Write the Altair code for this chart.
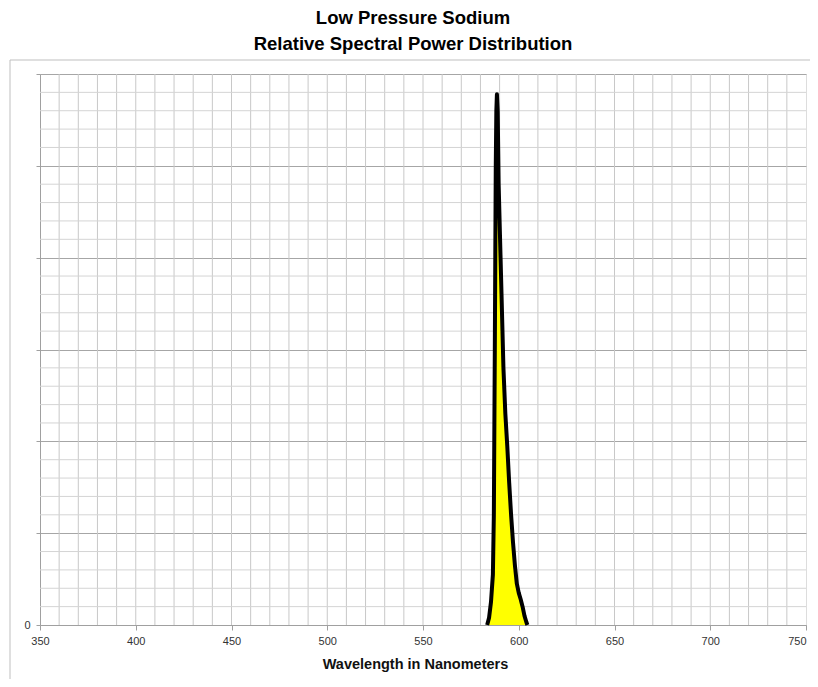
import altair as alt
import pandas as pd

# Spectral power distribution (relative)
wavelength = [583.5, 584.5, 585.5, 586.5, 587.0, 587.5, 588.0, 588.3, 588.6, 589.0,
              589.5, 590.0, 590.5, 591.0, 591.5, 592.0, 593.0, 594.0, 595.0, 596.0,
              597.0, 598.0, 599.0, 600.0, 601.0, 602.0, 603.0, 604.0, 604.5]
power = [0.0, 0.8, 2.5, 5.5, 12.0, 30.0, 50.0, 56.0, 57.8, 56.0,
         48.0, 44.0, 40.0, 36.0, 32.0, 28.0, 23.0, 19.5, 15.5, 12.0,
         9.0, 6.5, 4.5, 3.5, 2.8, 2.0, 1.0, 0.3, 0.0]

x_major = [350, 400, 450, 500, 550, 600, 650, 700, 750]
x_minor = list(range(360, 750, 10))
y_major = [0, 10, 20, 30, 40, 50, 60]
y_minor = [v for v in range(2, 60, 2) if v % 10 != 0]

spd = pd.DataFrame({"wl": wavelength, "p": power})
xg = pd.DataFrame({"wl": x_minor})
yg = pd.DataFrame({"p": y_minor})

FONT = "Liberation Sans"
xscale = alt.Scale(domain=[350, 750], nice=False, zero=False)
yscale = alt.Scale(domain=[0, 60], nice=False)

xaxis = alt.Axis(values=x_major, grid=False, tickSize=5, tickColor="#A0A0A0",
                 domainColor="#A0A0A0", labelFont=FONT, labelFontSize=11,
                 labelColor="#333333", labelPadding=5, labelFlush=False,
                 labelAlign={"condition": {"test": "datum.value == 750", "value": "right"},
                             "value": "center"},
                 title="Wavelength in Nanometers", titleFont=FONT, titleFontSize=14.5,
                 titleFontWeight="bold", titleColor="#111111", titlePadding=11,
                 titleX=375)
yaxis = alt.Axis(values=y_major, grid=True, gridColor="#A6A6A6", tickSize=4,
                 tickColor="#A0A0A0", domainColor="#A0A0A0",
                 labelExpr="datum.value == 0 ? '0' : ''", labelFont=FONT,
                 labelFontSize=11, labelColor="#333333", labelPadding=6, title=None)

frame = alt.Chart(pd.DataFrame({"a": [0]})).mark_rect(
    filled=False, stroke="#BFBFBF", strokeWidth=1
).encode(x=alt.value(-30), x2=alt.value(820), y=alt.value(-14), y2=alt.value(640))

xgrid = alt.Chart(xg).mark_rule(color="#C8C8C8", strokeWidth=1).encode(
    x=alt.X("wl:Q", scale=xscale, axis=xaxis)
)
ygrid = alt.Chart(yg).mark_rule(color="#D4D4D4", strokeWidth=1).encode(
    y=alt.Y("p:Q", scale=yscale, axis=yaxis)
)
area = alt.Chart(spd).mark_area(color="#FFFF00").encode(
    x=alt.X("wl:Q", scale=xscale, axis=xaxis),
    y=alt.Y("p:Q", scale=yscale, axis=yaxis),
)
line = alt.Chart(spd).mark_line(color="black", strokeWidth=4, strokeJoin="round").encode(
    x=alt.X("wl:Q", scale=xscale, axis=xaxis),
    y=alt.Y("p:Q", scale=yscale, axis=yaxis),
)

chart = alt.layer(frame, xgrid, ygrid, area, line).properties(
    width=766, height=551,
    autosize=alt.AutoSizeParams(type="none"),
    padding={"left": 32, "top": 66, "right": 4, "bottom": 54},
    title=alt.TitleParams(
        ["Low Pressure Sodium", "Relative Spectral Power Distribution"],
        font=FONT, fontSize=18.5, fontWeight="bold", color="#000000",
        anchor="middle", lineHeight=26, offset=6, dx=-10,
    ),
).configure_view(stroke=None).configure(background="white")

chart.save("out.html", embed_options={"renderer": "svg", "actions": False})
